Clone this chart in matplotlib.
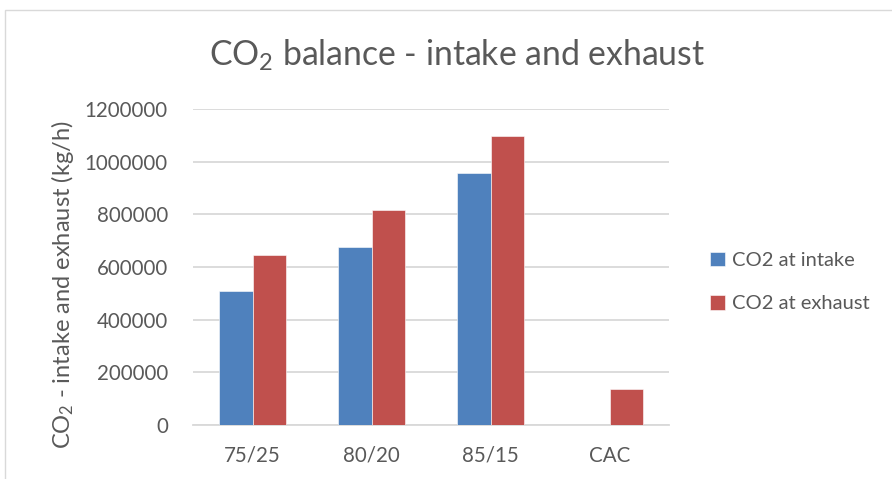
import matplotlib
matplotlib.use("Agg")
import matplotlib.pyplot as plt
import numpy as np
from matplotlib.patches import Rectangle

categories = ["75/25", "80/20", "85/15", "CAC"]
co2_intake = [507000, 675000, 958000, 0]
co2_exhaust = [646000, 815000, 1097000, 138000]
series_labels = ["CO2 at intake", "CO2 at exhaust"]
yticks = [0, 200000, 400000, 600000, 800000, 1000000, 1200000]

plt.rcParams["font.family"] = ["Lato", "DejaVu Sans"]
plt.rcParams["mathtext.default"] = "regular"
text_color = "#595959"

fig = plt.figure(figsize=(8.92, 4.79), dpi=100)
fig.patches.append(Rectangle((5 / 892, -0.1), 1.2, 1 - 10 / 479 + 0.1, transform=fig.transFigure,
                             fill=False, edgecolor="#D9D9D9", linewidth=1.0))

ax = fig.add_axes([193 / 892, 1 - 425 / 479, 476 / 892, 316 / 479])
x = np.arange(len(categories))
w = 0.57 / 2
ax.bar(x - w / 2, co2_intake, w, color="#4F81BD", edgecolor="#ffffff", linewidth=0.4, label=series_labels[0], zorder=3)
ax.bar(x + w / 2, co2_exhaust, w, color="#C0504D", edgecolor="#ffffff", linewidth=0.4, label=series_labels[1], zorder=3)

ax.set_xlim(-0.5, len(categories) - 0.5)
ax.set_ylim(0, 1200000)
ax.set_yticks(yticks)
ax.set_yticklabels([str(v) for v in yticks])
ax.set_xticks(x)
ax.set_xticklabels(categories)
ax.yaxis.grid(True, color="#D9D9D9", linewidth=1.3, zorder=0)
ax.set_axisbelow(True)
for side in ["left", "right", "top"]:
    ax.spines[side].set_visible(False)
ax.spines["bottom"].set_color("#D9D9D9")
ax.spines["bottom"].set_linewidth(1.3)
ax.tick_params(axis="both", length=0, labelsize=14.8, colors=text_color)
ax.tick_params(axis="y", pad=18)
ax.tick_params(axis="x", pad=15)

fig.text(457 / 892, 1 - 55 / 479, "CO$_2$ balance - intake and exhaust", ha="center", va="center",
         fontsize=24.3, color=text_color)
fig.text(62 / 892, 1 - 285 / 479, "CO$_2$ - intake and exhaust (kg/h)", ha="center", va="center",
         rotation=90, fontsize=17, color=text_color)

ax.legend(loc="center left", bbox_to_anchor=(692 / 892, 1 - 282 / 479), bbox_transform=fig.transFigure,
          frameon=False, fontsize=14.5, labelcolor=text_color, handlelength=0.75, handleheight=0.75,
          handletextpad=0.35, labelspacing=1.3)

fig.savefig("out.png", dpi=100)
